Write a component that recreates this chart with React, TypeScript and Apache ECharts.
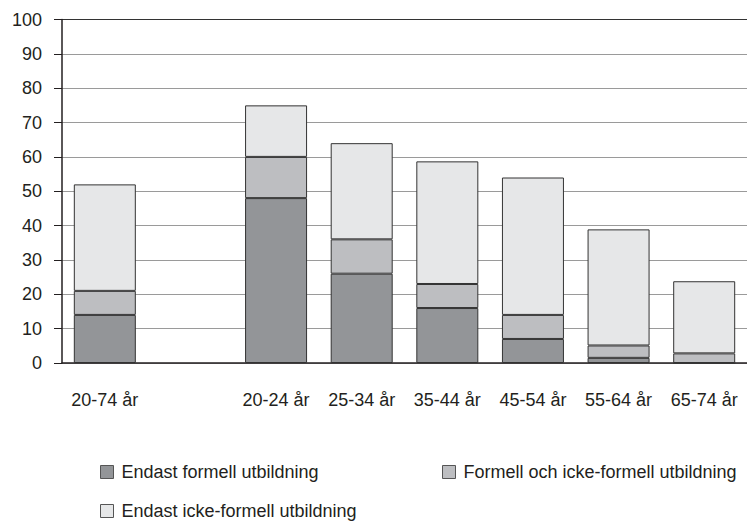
import React, { useEffect, useRef } from "react";
import * as echarts from "echarts";

const categories = ["20-74 år", "", "20-24 år", "25-34 år", "35-44 år", "45-54 år", "55-64 år", "65-74 år"];
const seriesNames = [
  "Endast formell utbildning",
  "Formell och icke-formell utbildning",
  "Endast icke-formell utbildning",
];
const endastFormell = [14, null, 48, 26, 16, 7, 1.5, 0];
const formellOchIcke = [7, null, 12, 10, 7, 7, 3.6, 2.8];
const endastIcke = [31, null, 15, 28, 35.7, 40, 33.8, 21];
const yTicks = [0, 100, 10];

const colors = ["#939598", "#bdbec1", "#e6e7e8"];
const FONT = "'Liberation Sans', Arial, Helvetica, sans-serif";

export default function App() {
  const ref = useRef<HTMLDivElement>(null);
  useEffect(() => {
    if (!ref.current) return;
    const chart = echarts.init(ref.current, undefined, { renderer: "svg" });
    const data = [endastFormell, formellOchIcke, endastIcke];
    const splitColors = Array.from({ length: 11 }, (_, i) => (i === 10 ? "#333333" : "#9a9a9a"));
    const legendPos = [
      { left: 100, top: 463 },
      { left: 442, top: 463 },
      { left: 100, top: 502 },
    ];
    chart.setOption({
      animation: false,
      backgroundColor: "#ffffff",
      grid: { left: 62, right: 0, top: 19.5, bottom: 159, containLabel: false },
      legend: seriesNames.map((n, i) => ({
        ...legendPos[i],
        padding: 0,
        orient: "horizontal",
        itemWidth: 13,
        itemHeight: 13,
        icon: "rect",
        data: [{ name: n, itemStyle: { color: colors[i], borderColor: "#555555", borderWidth: 1 } }],
        textStyle: { fontFamily: FONT, fontSize: 18, color: "#231f20", padding: [0, 0, 0, 3] },
        selectedMode: false,
      })),
      xAxis: {
        type: "category",
        data: categories,
        axisLine: { show: true, lineStyle: { color: "#231f20", width: 1.5 } },
        axisTick: { show: false },
        axisLabel: { fontFamily: FONT, fontSize: 18, color: "#231f20", margin: 28, interval: 0 },
      },
      yAxis: {
        type: "value",
        min: yTicks[0],
        max: yTicks[1],
        interval: yTicks[2],
        axisLine: { show: true, lineStyle: { color: "#231f20", width: 1.5 } },
        axisTick: { show: true, inside: false, length: 8, lineStyle: { color: "#231f20" } },
        axisLabel: { fontFamily: FONT, fontSize: 18, color: "#231f20", margin: 20 },
        splitLine: { show: true, lineStyle: { color: splitColors, width: 1 } },
      },
      series: seriesNames.map((n, i) => ({
        name: n,
        type: "bar",
        stack: "total",
        barWidth: 62,
        data: data[i],
        itemStyle: { color: colors[i], borderColor: "#333333", borderWidth: 1 },
      })),
    });
    return () => chart.dispose();
  }, []);
  return (
    <div
      ref={ref}
      style={{ position: "fixed", left: 0, top: 0, width: 747, height: 522, background: "#fff" }}
    />
  );
}
